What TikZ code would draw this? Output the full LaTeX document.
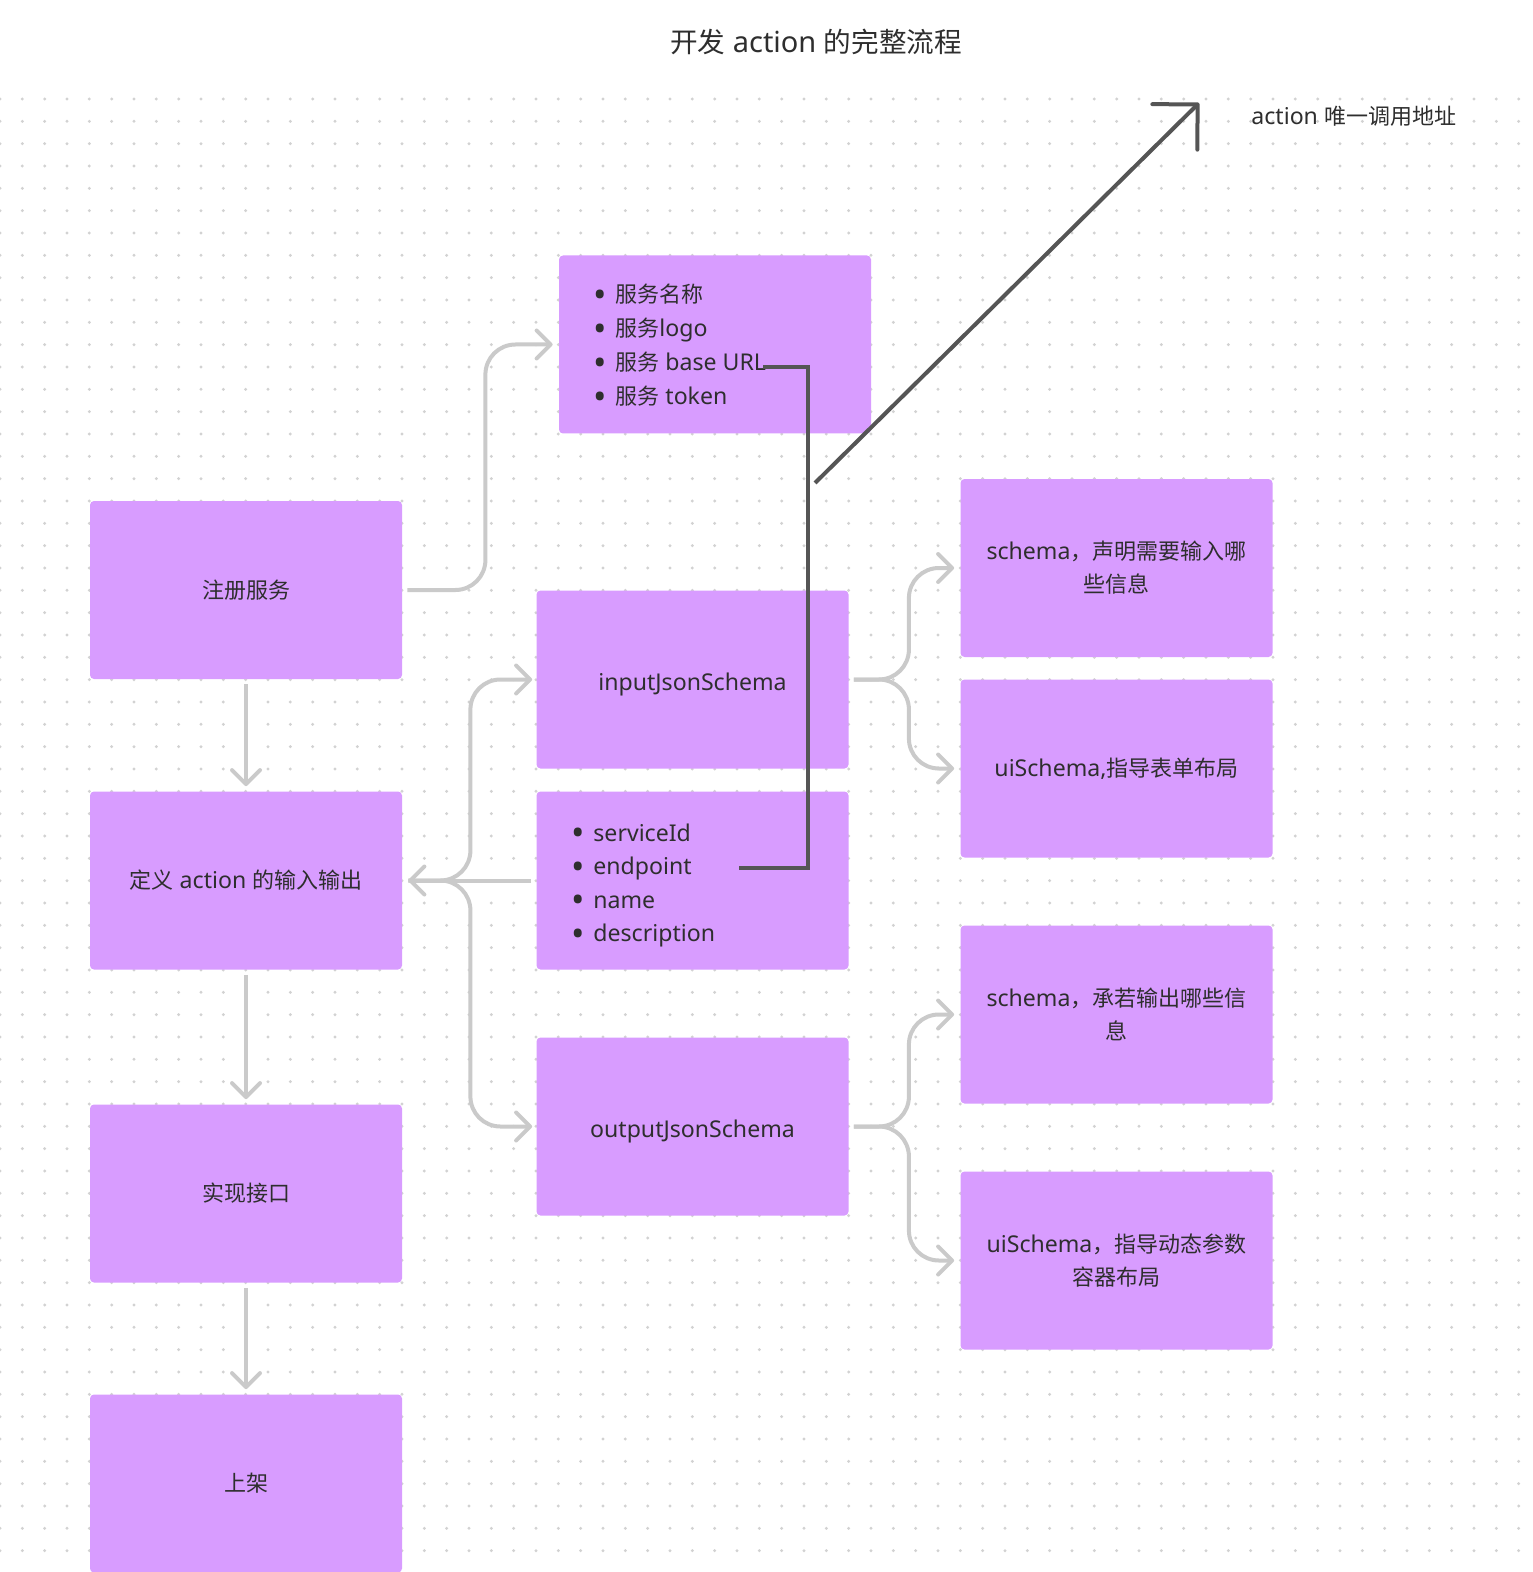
\documentclass[tikz,border=0pt]{standalone}
\usepackage{fontspec}
\setmainfont{Noto Sans}[Scale=1.05]
\newfontfamily\cjk{Noto Sans CJK SC}
\newcommand\zh[1]{{\cjk #1}}
\newcommand\blt{\makebox[11pt][l]{\raisebox{-2.2pt}[0pt][0pt]{\scalebox{1.55}{•}}}}
\usetikzlibrary{arrows.meta,calc}
\definecolor{boxc}{HTML}{D89CFF}
\definecolor{txtc}{HTML}{2E2E2E}
\definecolor{conc}{HTML}{CACACA}
\definecolor{darkc}{HTML}{555555}
\definecolor{dotc}{HTML}{D2D2D2}
\begin{document}
\begin{tikzpicture}[x=0.5pt,y=-0.5pt,
  box/.style={fill=boxc, rounded corners=2pt, minimum width=156pt, minimum height=89pt, inner sep=0pt, text=txtc, align=center, font=\fontsize{11}{16.5}\selectfont},
  li/.style={anchor=base west, inner sep=0pt, text=txtc, font=\fontsize{11}{13}\selectfont},
  conn/.style={draw=conc, line width=2pt, rounded corners=15pt, -{Straight Barb[length=7pt,width=14pt,round]}},
  dark/.style={draw=darkc, line width=2pt},
  lbl/.style={text=txtc, inner sep=0pt}]
\fill[white] (0,0) rectangle (1532,1572);
\useasboundingbox (0,0) rectangle (1532,1572);
% dot grid
\foreach \i in {0,...,68} {
  \foreach \j in {0,...,65} {
    \fill[dotc] (\i*22.333,99+\j*22.333) circle[radius=0.8pt];
  }
}
% title and label
\node[lbl, font=\fontsize{13.8}{16}\selectfont] (title) at (816,42) {\zh{开发} action \zh{的完整流程}};
\node[lbl, anchor=west, font=\fontsize{11}{13}\selectfont] (addr) at (1251,116) {action \zh{唯一调用地址}};
% boxes
\node[box] (reg) at (246,590) {\zh{注册服务}};
\node[box] (def) at (246,880.5) {\zh{定义} action \zh{的输入输出}};
\node[box] (impl) at (246,1193.5) {\zh{实现接口}};
\node[box] (pub) at (246,1483.5) {\zh{上架}};
\node[box] (svc) at (715,344.5) {};
\node[box] (inp) at (692.5,679.5) {\raisebox{-2.5pt}[\height][\depth]{inputJsonSchema}};
\node[box] (idb) at (692.5,880.5) {};
\node[box] (out) at (692.5,1126.5) {\raisebox{-2.5pt}[\height][\depth]{outputJsonSchema}};
\node[box] (sch1) at (1116.5,568) {schema\zh{，声明需要输入哪}\\\zh{些信息}};
\node[box] (ui1) at (1116.5,768.5) {uiSchema,\zh{指导表单布局}};
\node[box] (sch2) at (1116.5,1014.5) {schema\zh{，承若输出哪些信}\\\zh{息}};
\node[box] (ui2) at (1116.5,1260.5) {uiSchema\zh{，指导动态参数}\\\zh{容器布局}};
% list items
\node[li] (s1) at (593,302.7) {\blt\zh{服务名称}};
\node[li] (s2) at (593,336.7) {\blt\zh{服务}logo};
\node[li] (s3) at (593,370.7) {\blt\zh{服务} base URL};
\node[li] (s4) at (593,404.7) {\blt\zh{服务} token};
\node[li] (p1) at (571,841) {\blt serviceId};
\node[li] (p2) at (571,874.6) {\blt endpoint};
\node[li] (p3) at (571,908.2) {\blt name};
\node[li] (p4) at (571,941.8) {\blt description};
% light connectors
\draw[conn] ([xshift=2.5pt]reg.east) -- ++(39pt,0) |- ([xshift=-3pt]svc.west);
\draw[conn] ([yshift=-2.5pt]reg.south) -- ([yshift=2.5pt]def.north);
\draw[conn] ([yshift=-2.5pt]def.south) -- ([yshift=2.5pt]impl.north);
\draw[conn] ([yshift=-2.5pt]impl.south) -- ([yshift=2.5pt]pub.north);
\draw[conn] ([xshift=-2.5pt]idb.west) -- ([xshift=3pt]def.east);
\draw[conn] ([xshift=3pt]def.east) -- ++(31pt,0) |- ([xshift=-2pt]inp.west);
\draw[conn] ([xshift=3pt]def.east) -- ++(31pt,0) |- ([xshift=-2pt]out.west);
\draw[conn] ([xshift=2.5pt]inp.east) -- ++(27.5pt,0) |- ([xshift=-3pt]sch1.west);
\draw[conn] ([xshift=2.5pt]inp.east) -- ++(27.5pt,0) |- ([xshift=-3pt]ui1.west);
\draw[conn] ([xshift=2.5pt]out.east) -- ++(27.5pt,0) |- ([xshift=-3pt]sch2.west);
\draw[conn] ([xshift=2.5pt]out.east) -- ++(27.5pt,0) |- ([xshift=-3pt]ui2.west);
% dark lines
\coordinate (urlend) at (763,367);
\coordinate (epend) at (739,868);
\coordinate (bendx) at (808,0);
\draw[dark] (urlend) -- (urlend -| bendx) |- (epend);
\coordinate (d0) at (815,483);
\coordinate (d1) at (1199,103);
\draw[dark, -{Straight Barb[length=16pt,width=32pt,round]}] (d0) -- (d1);
\end{tikzpicture}
\end{document}
